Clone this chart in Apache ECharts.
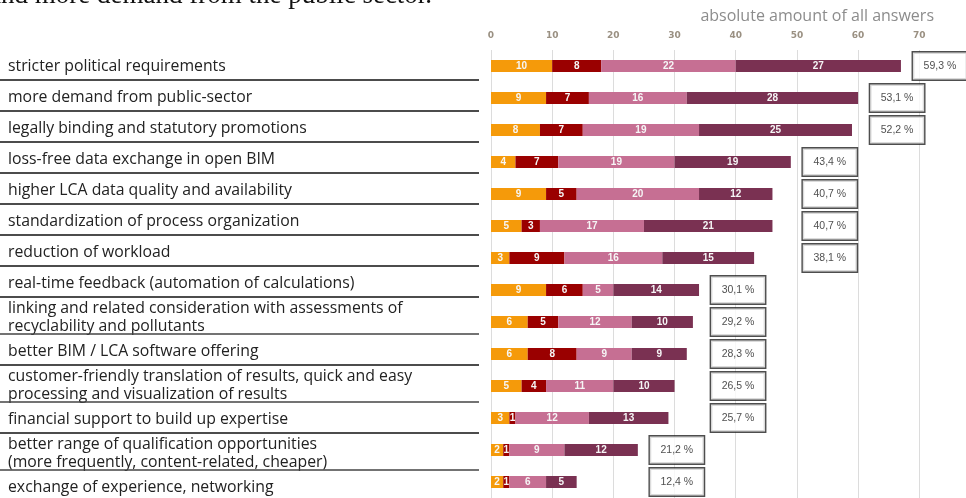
<!DOCTYPE html>
<html><head><meta charset="utf-8">
<script src="https://cdn.jsdelivr.net/npm/echarts@6/dist/echarts.min.js"></script>
<style>html,body{margin:0;padding:0;background:#fff;overflow:hidden}#c{width:966px;height:498px}</style>
</head><body><div id="c"></div><script>
const categories = [
  'stricter political requirements',
  'more demand from public-sector',
  'legally binding and statutory promotions',
  'loss-free data exchange in open BIM',
  'higher LCA data quality and availability',
  'standardization of process organization',
  'reduction of workload',
  'real-time feedback (automation of calculations)',
  'linking and related consideration with assessments of\nrecyclability and pollutants',
  'better BIM / LCA software offering',
  'customer-friendly translation of results, quick and easy\nprocessing and visualization of results',
  'financial support to build up expertise',
  'better range of qualification opportunities\n(more frequently, content-related, cheaper)',
  'exchange of experience, networking'
];
const seriesA = [10, 9, 8, 4, 9, 5, 3, 9, 6, 6, 5, 3, 2, 2];
const seriesB = [8, 7, 7, 7, 5, 3, 9, 6, 5, 8, 4, 1, 1, 1];
const seriesC = [22, 16, 19, 19, 20, 17, 16, 5, 12, 9, 11, 12, 9, 6];
const seriesD = [27, 28, 25, 19, 12, 21, 15, 14, 10, 9, 10, 13, 12, 5];
const shares = ['59,3 %', '53,1 %', '52,2 %', '43,4 %', '40,7 %', '40,7 %', '38,1 %', '30,1 %', '29,2 %', '28,3 %', '26,5 %', '25,7 %', '21,2 %', '12,4 %'];
const xTicks = [0, 10, 20, 30, 40, 50, 60, 70];
const axisTitle = 'absolute amount of all answers';
const headText = 'and more demand from the public sector.';

// layout (not data): which rows share a box column
const boxGroups = [[0], [1, 2], [3, 4, 5, 6], [7, 8, 9, 10, 11], [12, 13]];
const colors = ['#F59A0A', '#9A0000', '#C66F93', '#7A3152'];
const LABEL_FONT = '"Open Sans", Lato, sans-serif';

const totals = categories.map((_, i) => seriesA[i] + seriesB[i] + seriesC[i] + seriesD[i]);
const anchor = new Array(categories.length);
boxGroups.forEach(g => { const m = Math.max(...g.map(i => totals[i])); g.forEach(i => anchor[i] = m); });

const chart = echarts.init(document.getElementById('c'));

// left table of labels
const graphics = [];
let T = 49;
categories.forEach((c, i) => {
  const two = c.indexOf('\n') >= 0;
  if (two) {
    graphics.push({ type: 'text', x: 8, y: T + 2, style: { text: c, font: '15.8px ' + LABEL_FONT, fill: '#222', lineHeight: 18, verticalAlign: 'top' } });
  } else {
    graphics.push({ type: 'text', x: 8, y: T + 17, style: { text: c, font: '15.8px ' + LABEL_FONT, fill: '#222', verticalAlign: 'middle' } });
  }
  const h = two ? 37 : 31;
  if (i < categories.length - 1) {
    graphics.push({ type: 'line', shape: { x1: 0, y1: T + h, x2: 479, y2: T + h }, style: { stroke: two ? '#444' : '#111', lineWidth: two ? 1.6 : 1.3 } });
  }
  T += h;
});
graphics.push({ type: 'text', x: -11, y: 9, style: { text: headText, font: '27px "Liberation Serif", serif', fill: '#111', verticalAlign: 'bottom' } });
graphics.push({ type: 'text', x: 934, y: 16, style: { text: axisTitle, font: '16px ' + LABEL_FONT, fill: '#8c8c8c', align: 'right', verticalAlign: 'middle' } });

const segLabel = {
  show: true, position: 'inside', color: '#f6f6f6', fontSize: 10, fontWeight: 'bold',
  fontFamily: '"Liberation Sans", Arial, sans-serif'
};
function barSeries(name, data, color) {
  return { name, type: 'bar', stack: 'all', data, barWidth: 12, itemStyle: { color }, label: segLabel, silent: true };
}

chart.setOption({
  animation: false,
  grid: { left: 491, right: 46.7, top: 50, height: 452, containLabel: false },
  xAxis: {
    type: 'value', position: 'top', min: 0, max: 70, interval: 10,
    axisLine: { show: false }, axisTick: { show: false },
    axisLabel: { margin: 10, fontSize: 9, fontWeight: 'bold', color: '#9a9082', fontFamily: '"DejaVu Sans", sans-serif',
      formatter: v => xTicks.indexOf(v) >= 0 ? String(v) : '' },
    splitLine: { show: true, lineStyle: { color: '#dcdcdc', width: 1 } }
  },
  yAxis: {
    type: 'category', inverse: true, data: categories,
    axisLine: { show: false }, axisTick: { show: false }, axisLabel: { show: false }, splitLine: { show: false }
  },
  series: [
    barSeries('a', seriesA, colors[0]),
    barSeries('b', seriesB, colors[1]),
    barSeries('c', seriesC, colors[2]),
    barSeries('d', seriesD, colors[3]),
    {
      type: 'scatter', symbolSize: 0, silent: true, z: 5,
      data: anchor.map((v, i) => [v, i]),
      label: {
        show: true, position: 'right', distance: 39,
        formatter: p => shares[p.dataIndex],
        backgroundColor: '#fff', borderColor: '#222', borderWidth: 1.4,
        width: 40, height: 15, lineHeight: 15, padding: [6, 7], align: 'center',
        fontSize: 10.5, color: '#222', fontFamily: '"Liberation Sans", Arial, sans-serif'
      }
    }
  ],
  graphic: graphics
});
</script></body></html>
